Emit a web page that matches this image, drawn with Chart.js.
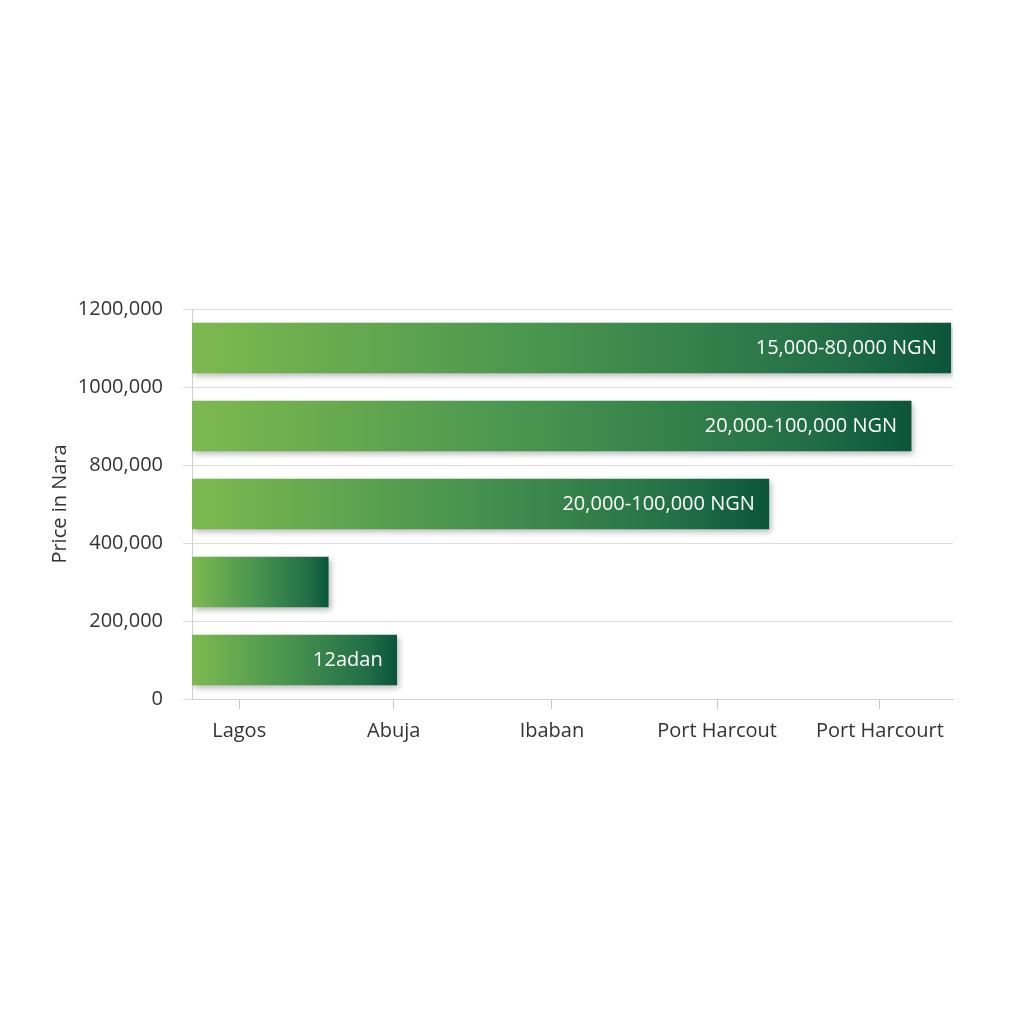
<!DOCTYPE html>
<html>
<head>
<meta charset="utf-8">
<script src="https://cdn.jsdelivr.net/npm/chart.js@4.4.0/dist/chart.umd.min.js"></script>
<style>
    html, body { margin: 0; padding: 0; background: #fff; }
    #wrap { width: 1024px; height: 1024px; }
</style>
</head>
<body>
<div id="wrap"><canvas id="grafico" width="1024" height="1024"></canvas></div>
<script>
// Linhas de cima para baixo
const linhas = ['r1', 'r2', 'r3', 'r4', 'r5'];
const comprimentos = [99.7, 94.5, 75.8, 17.9, 26.9];
const rotulosBarras = ['15,000-80,000 NGN', '20,000-100,000 NGN', '20,000-100,000 NGN', '', '12adan'];

// Eixos
const rotulosPreco = ['0', '200,000', '400,000', '800,000', '1000,000', '1200,000'];
const cidades = ['Lagos', 'Abuja', 'Ibaban', 'Port Harcout', 'Port Harcourt'];
const valoresCidades = [6.2, 26.5, 47.3, 69.0, 90.4];

const fonte = { family: "'Open Sans', sans-serif", size: 20 };

// Degradê por barra, do início ao fim da barra
function gradienteBarra(context) {
    const chart = context.chart;
    if (!chart.chartArea || !chart.scales.x) return '#4a9a4f';
    const escalaX = chart.scales.x;
    const x0 = escalaX.getPixelForValue(0);
    const x1 = escalaX.getPixelForValue(context.raw);
    const g = chart.ctx.createLinearGradient(x0, 0, x1, 0);
    g.addColorStop(0, '#7db94f');
    g.addColorStop(0.45, '#4a964f');
    g.addColorStop(0.85, '#226f47');
    g.addColorStop(1, '#0a553b');
    return g;
}

const sombraERotulos = {
    id: 'sombraERotulos',
    beforeDatasetsDraw(chart) {
        const ctx = chart.ctx;
        ctx.save();
        ctx.shadowColor = 'rgba(0,0,0,0.28)';
        ctx.shadowBlur = 6;
        ctx.shadowOffsetX = 2;
        ctx.shadowOffsetY = 3;
    },
    afterDatasetsDraw(chart) {
        const ctx = chart.ctx;
        ctx.restore();
        const meta = chart.getDatasetMeta(0);
        ctx.save();
        ctx.font = "20px 'Open Sans', sans-serif";
        ctx.fillStyle = '#ffffff';
        ctx.textAlign = 'right';
        ctx.textBaseline = 'middle';
        meta.data.forEach((barra, i) => {
            const txt = rotulosBarras[i];
            if (txt) ctx.fillText(txt, barra.x - 14, barra.y);
        });
        ctx.restore();
    }
};

new Chart(document.getElementById('grafico').getContext('2d'), {
    type: 'bar',
    data: {
        labels: linhas,
        datasets: [{
            data: comprimentos,
            yAxisID: 'linhas',
            backgroundColor: gradienteBarra,
            borderWidth: 0,
            barThickness: 50
        }]
    },
    options: {
        indexAxis: 'y',
        responsive: false,
        animation: false,
        layout: { padding: { left: 48, top: 309, right: 71, bottom: 265 } },
        plugins: { legend: { display: false }, tooltip: { enabled: false } },
        scales: {
            x: {
                type: 'linear',
                min: 0,
                max: 100,
                afterBuildTicks: s => { s.ticks = valoresCidades.map(v => ({ value: v })); },
                ticks: {
                    callback: (v, i) => cidades[i],
                    font: fonte,
                    color: '#333',
                    padding: 10,
                    maxRotation: 0,
                    autoSkip: false
                },
                grid: { drawOnChartArea: false, color: '#c8c8c8', tickLength: 10 },
                border: { color: '#d0d0d0' },
                afterFit: s => { s.height = 60; }
            },
            y: {
                type: 'linear',
                position: 'left',
                min: 0,
                max: 5,
                offset: false,
                ticks: {
                    stepSize: 1,
                    callback: v => rotulosPreco[v],
                    font: fonte,
                    color: '#333',
                    padding: 20
                },
                grid: { color: '#dcdcdc', tickLength: 9, offset: false },
                border: { color: '#d0d0d0' },
                title: { display: true, text: 'Price in Nara', font: fonte, color: '#333', padding: 0 },
                afterFit: s => { s.width = 144; }
            },
            linhas: {
                axis: 'y',
                type: 'category',
                position: 'left',
                display: false,
                offset: true
            }
        }
    },
    plugins: [sombraERotulos]
});
</script>
</body>
</html>
